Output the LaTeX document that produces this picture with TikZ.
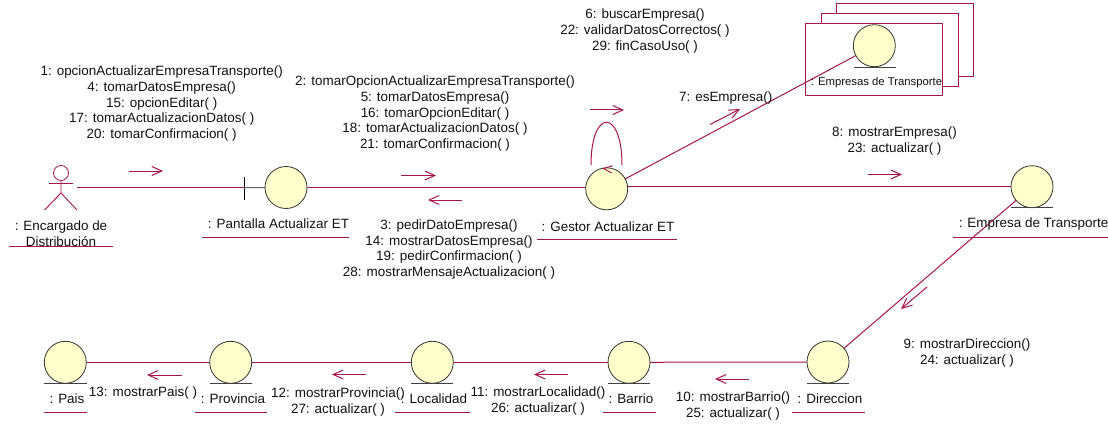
\documentclass[tikz,border=0pt]{standalone}
\usepackage{fontspec}
\setmainfont{Liberation Sans}
\usetikzlibrary{arrows.meta,backgrounds}
\definecolor{umlline}{HTML}{A8154C}
\definecolor{umlfill}{HTML}{FFFFCC}
\definecolor{umltext}{HTML}{111111}
\tikzset{
  umlconn/.style={draw=umlline,line width=1pt},
  msgarrow/.style={draw=umlline,line width=1pt,-{Straight Barb[length=10pt,width=9pt,line width=1pt]}},
  objcircle/.style={circle,draw=black!80,line width=0.8pt,fill=umlfill,minimum size=42pt,inner sep=0pt,outer sep=0pt},
  baseline rule/.style={draw=black!75,line width=0.9pt},
  txt/.style={inner sep=0pt,outer sep=0pt,align=center,text=umltext,yshift=-1pt,font=\fontsize{13.45}{15.7}\selectfont},
  smalltxt/.style={txt,font=\fontsize{11.3}{13}\selectfont},
  stackbox/.style={draw=umlline,line width=1pt,fill=white},
}
\begin{document}
\begin{tikzpicture}[x=1pt,y=-1pt]
\useasboundingbox (0,0) rectangle (1108,425);
% objects
\node[objcircle] (pantalla) at (286,187.5) {};
\node[objcircle] (gestor) at (606.7,188.8) {};
\node[objcircle] (empresas) at (874.3,45.7) {};
\node[objcircle] (empresa) at (1032,186.7) {};
\node[objcircle] (direccion) at (828,362) {};
\node[objcircle] (barrio) at (629,362.3) {};
\node[objcircle] (localidad) at (432.3,362.3) {};
\node[objcircle] (provincia) at (230.7,362.3) {};
\node[objcircle] (pais) at (65.3,362.3) {};
\coordinate (actorhand) at (77,187.7);
\coordinate (tick) at (244.5,187.7);
\coordinate (loopL) at (591,165);
\coordinate (loopR) at (622,165);
% connectors and boxes behind
\begin{scope}[on background layer]
\fill[white] (0,0) rectangle (1108,425);
\draw[stackbox] (836,3.7) rectangle (973,77);
\draw[stackbox] (821,13.7) rectangle (958,87);
\draw[stackbox] (805.7,23.3) rectangle (942.7,95.7);
\draw[umlconn] (actorhand) -- (tick);
\draw[draw=black!60,line width=1pt] (tick) -- (pantalla);
\draw[umlconn] (pantalla.east) -- (pantalla.east -| gestor.center);
\draw[umlconn] (gestor.center |- empresa.west) -- (empresa.west);
\draw[umlconn] (gestor) -- (empresas);
\draw[umlconn] (empresa) -- (direccion);
\draw[umlconn] (direccion) -- (barrio);
\draw[umlconn] (barrio) -- (localidad);
\draw[umlconn] (localidad) -- (provincia);
\draw[umlconn] (provincia) -- (pais);
\draw[umlconn] (loopL) .. controls (591,108) and (622,108) .. (loopR);
\end{scope}
% actor
\draw[draw=umlline,line width=0.8pt] (61,173) circle (7.5);
\draw[draw=umlline,line width=0.9pt] (61,180.5) -- (61,193) (49,183.5) -- (73,183.5) (44.5,210) -- (61,193) -- (77,210);
% boundary tick
\draw[draw=black,line width=0.9pt] (244.5,177) -- (244.5,199.5);
% base lines
\draw[baseline rule] (854,67) -- (896,67);
\draw[baseline rule] (1011,207.7) -- (1053,207.7);
\draw[baseline rule] (807,383) -- (849,383);
\draw[baseline rule] (608,383) -- (650,383);
\draw[baseline rule] (411,383) -- (453,383);
\draw[baseline rule] (210,383) -- (252,383);
\draw[baseline rule] (44,383) -- (87,383);
% self-loop chevron
\draw[draw=umlline,line width=0.9pt] (612.7,165.7) -- (603.5,168.5) -- (611.7,173);
% object labels
\node[txt] (lactor) at (61,232.8) {: Encargado de\\Distribución};
\node[txt] (lpantalla) at (278.5,223) {: Pantalla Actualizar ET};
\node[txt] (lgestor) at (608,225.7) {: Gestor Actualizar ET};
\node[smalltxt] (lempresas) at (876.5,82) {: Empresas de Transporte};
\node[txt] (lempresa) at (1033.5,223) {: Empresa de Transporte};
\node[txt] (lpais) at (67,398) {: Pais};
\node[txt] (lprovincia) at (233,398) {: Provincia};
\node[txt] (llocalidad) at (434,398) {: Localidad};
\node[txt] (lbarrio) at (631,398) {: Barrio};
\node[txt] (ldireccion) at (830,398) {: Direccion};
% underlines
\draw[umlconn] (9,246.7) -- (113,246.7);
\draw[umlconn] (202,237.7) -- (349,237.7);
\draw[umlconn] (537,239.3) -- (677,239.3);
\draw[umlconn] (953,237) -- (1108,237);
\draw[umlconn] (44,412) -- (87,412);
\draw[umlconn] (195,412) -- (267,412);
\draw[umlconn] (395,412) -- (470,412);
\draw[umlconn] (603,412) -- (656,412);
\draw[umlconn] (792,412) -- (865,412);
% message arrows
\coordinate (a1s) at (129,171); \coordinate (a1e) at (163,171);
\coordinate (a2s) at (401,175.5); \coordinate (a2e) at (436,175.5);
\coordinate (a3s) at (462,200); \coordinate (a3e) at (428,200);
\coordinate (a6s) at (590,110); \coordinate (a6e) at (624,110);
\coordinate (a7s) at (710,124.5); \coordinate (a7e) at (740,109);
\coordinate (a8s) at (867.5,174.5); \coordinate (a8e) at (902,174.5);
\coordinate (a9s) at (927,287); \coordinate (a9e) at (901,309);
\coordinate (a10s) at (749,379); \coordinate (a10e) at (715,379);
\coordinate (a11s) at (568,374.5); \coordinate (a11e) at (534,374.5);
\coordinate (a12s) at (366,374.5); \coordinate (a12e) at (332,374.5);
\coordinate (a13s) at (182,375); \coordinate (a13e) at (147,375);
\foreach \m in {1,2,3,6,7,8,9,10,11,12,13} \draw[msgarrow] (a\m s) -- (a\m e);
% message labels
\node[txt] (m1) at (161.7,102.8) {1: opcionActualizarEmpresaTransporte()\\4: tomarDatosEmpresa()\\15: opcionEditar( )\\17: tomarActualizacionDatos( )\\20: tomarConfirmacion( )};
\node[txt] (m2) at (435,112.8) {2: tomarOpcionActualizarEmpresaTransporte()\\5: tomarDatosEmpresa()\\16: tomarOpcionEditar( )\\18: tomarActualizacionDatos( )\\21: tomarConfirmacion( )};
\node[txt] (m3) at (449,248.5) {3: pedirDatoEmpresa()\\14: mostrarDatosEmpresa()\\19: pedirConfirmacion( )\\28: mostrarMensajeActualizacion( )};
\node[txt] (m6) at (645,30) {6: buscarEmpresa()\\22: validarDatosCorrectos( )\\29: finCasoUso( )};
\node[txt] (m7) at (725.7,97) {7: esEmpresa()};
\node[txt] (m8) at (894.5,140) {8: mostrarEmpresa()\\23: actualizar( )};
\node[txt] (m9) at (967,352) {9: mostrarDireccion()\\24: actualizar( )};
\node[txt] (m10) at (733,404.8) {10: mostrarBarrio()\\25: actualizar( )};
\node[txt] (m11) at (538,400) {11: mostrarLocalidad()\\26: actualizar( )};
\node[txt] (m12) at (338,400.8) {12: mostrarProvincia()\\27: actualizar( )};
\node[txt] (m13) at (143,391.7) {13: mostrarPais( )};
\end{tikzpicture}
\end{document}
